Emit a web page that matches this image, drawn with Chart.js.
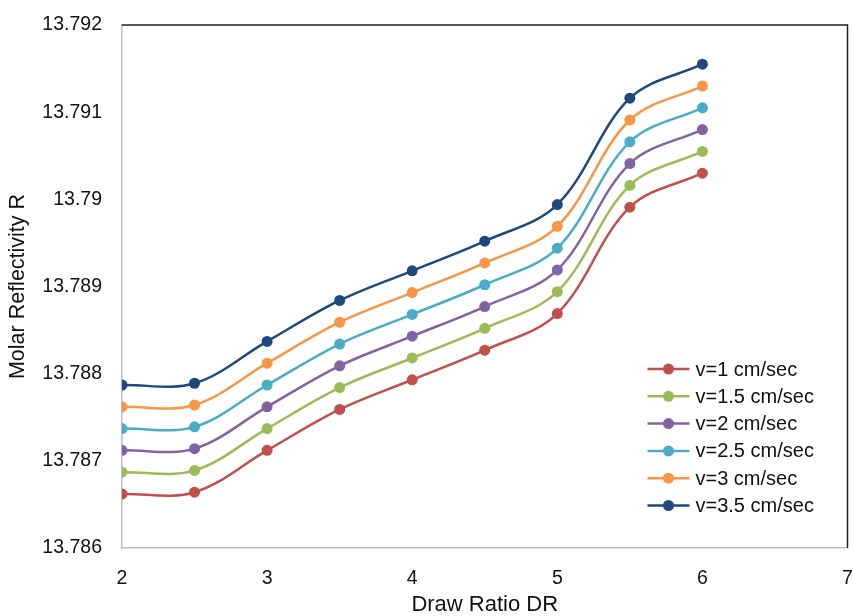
<!DOCTYPE html>
<html><head><meta charset="utf-8">
<script src="https://cdn.jsdelivr.net/npm/chart.js@4/dist/chart.umd.min.js"></script>
<style>html,body{margin:0;padding:0;background:#fff;overflow:hidden}</style>
</head><body>
<canvas id="c" width="853" height="616"></canvas>
<script>
const drawRatio = [2, 2.5, 3, 3.5, 4, 4.5, 5, 5.5, 6];
const seriesLabels = ['v=1 cm/sec', 'v=1.5 cm/sec', 'v=2 cm/sec', 'v=2.5 cm/sec', 'v=3 cm/sec', 'v=3.5 cm/sec'];
const v1_0 = [13.78662, 13.78664, 13.78712, 13.78759, 13.78793, 13.78827, 13.78869, 13.78991, 13.79030];
const v1_5 = [13.78687, 13.78689, 13.78737, 13.78784, 13.78818, 13.78852, 13.78894, 13.79016, 13.79055];
const v2_0 = [13.78712, 13.78714, 13.78762, 13.78809, 13.78843, 13.78877, 13.78919, 13.79041, 13.79080];
const v2_5 = [13.78737, 13.78739, 13.78787, 13.78834, 13.78868, 13.78902, 13.78944, 13.79066, 13.79105];
const v3_0 = [13.78762, 13.78764, 13.78812, 13.78859, 13.78893, 13.78927, 13.78969, 13.79091, 13.79130];
const v3_5 = [13.78787, 13.78789, 13.78837, 13.78884, 13.78918, 13.78952, 13.78994, 13.79116, 13.79155];
const seriesColors = ['#C0504D', '#9BBB59', '#8064A2', '#4BACC6', '#F79646', '#1F497D'];
const xTickValues = [2, 3, 4, 5, 6, 7];
const xTickLabels = ['2', '3', '4', '5', '6', '7'];
const yTickValues = [13.786, 13.787, 13.788, 13.789, 13.790, 13.791, 13.792];
const yTickLabels = ['13.786', '13.787', '13.788', '13.789', '13.79', '13.791', '13.792'];
const xTitle = 'Draw Ratio DR';
const yTitle = 'Molar Reflectivity R';

const allSeries = [v1_0, v1_5, v2_0, v2_5, v3_0, v3_5];
const FONT = 'Liberation Sans, Arial, sans-serif';

const datasets = allSeries.map((vals, i) => ({
  label: seriesLabels[i],
  data: vals.map((y, j) => ({ x: drawRatio[j], y: y })),
  borderColor: seriesColors[i],
  backgroundColor: seriesColors[i],
  pointBackgroundColor: seriesColors[i],
  pointBorderColor: seriesColors[i],
  pointBorderWidth: 0,
  pointRadius: 5.5,
  borderWidth: 2.5,
  tension: 0.35,
  fill: false
}));

const frame = {
  id: 'frame',
  afterDraw(chart) {
    const { ctx, chartArea: a } = chart;
    ctx.save();
    ctx.strokeStyle = '#222';
    ctx.lineWidth = 1.5;
    ctx.beginPath();
    ctx.moveTo(a.left, a.top);
    ctx.lineTo(a.right, a.top);
    ctx.lineTo(a.right, a.bottom);
    ctx.stroke();
    ctx.restore();
  }
};

const insideLegend = {
  id: 'insideLegend',
  afterDraw(chart) {
    const { ctx, chartArea: a } = chart;
    const x0 = a.right - 200, x1 = a.right - 158, tx = a.right - 152;
    const y0 = a.top + 344, dy = 27.3;
    ctx.save();
    ctx.font = '20px ' + FONT;
    ctx.textBaseline = 'middle';
    ctx.textAlign = 'left';
    chart.data.datasets.forEach((ds, i) => {
      const y = y0 + i * dy;
      ctx.strokeStyle = ds.borderColor;
      ctx.lineWidth = 2.5;
      ctx.beginPath();
      ctx.moveTo(x0, y);
      ctx.lineTo(x1, y);
      ctx.stroke();
      ctx.fillStyle = ds.borderColor;
      ctx.beginPath();
      ctx.arc((x0 + x1) / 2, y, 5.5, 0, Math.PI * 2);
      ctx.fill();
      ctx.fillStyle = '#111';
      ctx.fillText(ds.label, tx, y + 1);
    });
    ctx.restore();
  }
};

new Chart(document.getElementById('c'), {
  type: 'line',
  data: { datasets },
  options: {
    responsive: false,
    animation: false,
    layout: { padding: { left: 6, right: 5, top: 25, bottom: 0 } },
    plugins: { legend: { display: false }, tooltip: { enabled: false } },
    scales: {
      x: {
        type: 'linear',
        min: 2, max: 7,
        afterBuildTicks: s => { s.ticks = xTickValues.map(v => ({ value: v })); },
        afterFit: s => { s.height = 68; s.paddingLeft = 0; s.paddingRight = 0; },
        ticks: {
          callback: (v, i) => xTickLabels[i],
          color: '#111', font: { family: FONT, size: 19.5 }, padding: 19, maxRotation: 0
        },
        grid: { display: false, drawTicks: false },
        border: { display: true, color: '#bfbfbf', width: 1.5 },
        title: { display: true, text: xTitle, color: '#111', font: { family: FONT, size: 22 }, padding: { top: 0, bottom: -2 } }
      },
      y: {
        type: 'linear',
        min: 13.786, max: 13.792,
        afterBuildTicks: s => { s.ticks = yTickValues.map(v => ({ value: v })); },
        afterFit: s => { s.width = 116; s.paddingTop = 0; s.paddingBottom = 0; },
        ticks: {
          callback: (v, i) => yTickLabels[i],
          color: '#111', font: { family: FONT, size: 19.5 }, padding: 20
        },
        grid: { display: false, drawTicks: false },
        border: { display: true, color: '#bfbfbf', width: 1.5 },
        title: { display: true, text: yTitle, color: '#111', font: { family: FONT, size: 21.5 }, padding: { top: -1, bottom: 0 } }
      }
    }
  },
  plugins: [frame, insideLegend]
});
</script>
</body></html>
